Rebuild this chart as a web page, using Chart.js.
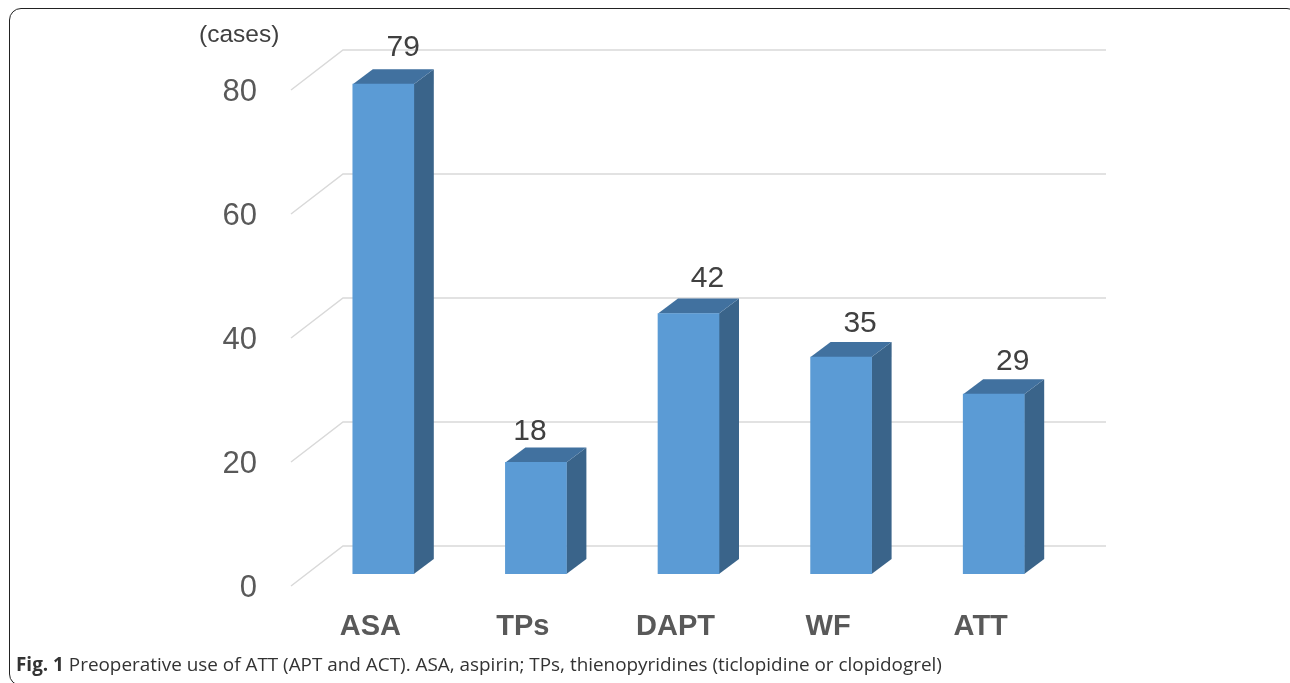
<!DOCTYPE html>
<html>
<head>
<meta charset="utf-8">
<script src="https://cdn.jsdelivr.net/npm/chart.js@4"></script>
<style>
html, body { margin: 0; padding: 0; background: #fff; overflow: hidden; }
#wrap { position: relative; width: 1290px; height: 683px; overflow: hidden; }
#frame { position: absolute; left: 9px; top: 8px; width: 1290px; height: 678px; border: 1.5px solid #222; border-radius: 12px; box-sizing: border-box; }
#chart { position: absolute; left: 0; top: 0; }
#caption { position: absolute; left: 16px; top: 651px; font: 18.9px "Open Sans", sans-serif; color: #333; white-space: nowrap; }
</style>
</head>
<body>
<div id="wrap">
  <div id="frame"></div>
  <canvas id="chart" width="1290" height="683"></canvas>
  <div id="caption"><b>Fig. 1</b> Preoperative use of ATT (APT and ACT). ASA, aspirin; TPs, thienopyridines (ticlopidine or clopidogrel)</div>
</div>
<script>
const categories = ["ASA", "TPs", "DAPT", "WF", "ATT"]
const cases = [79, 18, 42, 35, 29]
const yTicks = [0, 20, 40, 60, 80]

const depthX = 20
const depthY = 15
const wallX = 36
const wallY = 28

// the value labels do not sit evenly above the bars in the original
const labelShiftX = [20, -6, 19, 19, 19]
const labelShiftY = [36, 31, 35, 33, 32]

const bars3d = {
    id: "bars3d",
    beforeDatasetsDraw(chart) {
        const ctx = chart.ctx
        const y = chart.scales.y
        const x = chart.scales.x

        // back wall lines and the short diagonals on the left
        ctx.save()
        ctx.strokeStyle = "#d9d9d9"
        ctx.lineWidth = 1.5
        yTicks.forEach(v => {
            const py = y.getPixelForValue(v)
            ctx.beginPath()
            ctx.moveTo(x.left - 16, py + 12)
            ctx.lineTo(x.left + wallX, py - wallY)
            ctx.lineTo(x.right + wallX, py - wallY)
            ctx.stroke()
        })

        // side and top of each bar
        chart.getDatasetMeta(0).data.forEach(bar => {
            const left = bar.x - bar.width / 2
            const right = bar.x + bar.width / 2

            ctx.fillStyle = "#3a648a"
            ctx.beginPath()
            ctx.moveTo(right, bar.y)
            ctx.lineTo(right + depthX, bar.y - depthY)
            ctx.lineTo(right + depthX, bar.base - depthY)
            ctx.lineTo(right, bar.base)
            ctx.fill()

            ctx.fillStyle = "#41719f"
            ctx.beginPath()
            ctx.moveTo(left, bar.y)
            ctx.lineTo(left + depthX, bar.y - depthY)
            ctx.lineTo(right + depthX, bar.y - depthY)
            ctx.lineTo(right, bar.y)
            ctx.fill()
        })
        ctx.restore()
    },
    afterDatasetsDraw(chart) {
        const ctx = chart.ctx
        ctx.save()
        ctx.fillStyle = "#404040"
        ctx.font = '30px "Liberation Sans"'
        ctx.textAlign = "center"
        ctx.textBaseline = "middle"
        chart.getDatasetMeta(0).data.forEach((bar, i) => {
            ctx.fillText(cases[i], bar.x + labelShiftX[i], bar.y - labelShiftY[i])
        })

        ctx.font = '24.5px "Liberation Sans"'
        ctx.textAlign = "left"
        ctx.fillText("(cases)", 199, 35)
        ctx.restore()
    }
}

new Chart(document.getElementById("chart"), {
    type: "bar",
    data: {
        labels: categories,
        datasets: [{
            data: cases,
            backgroundColor: "#5b9bd5",
            barThickness: 61
        }]
    },
    plugins: [bars3d],
    options: {
        responsive: false,
        animation: false,
        layout: { padding: { top: 78, right: 220, left: 0, bottom: 0 } },
        plugins: {
            legend: { display: false },
            tooltip: { enabled: false }
        },
        scales: {
            x: {
                afterFit(scale) { scale.height = 109 },
                grid: { display: false },
                border: { display: false },
                ticks: {
                    color: "#595959",
                    font: { family: "Liberation Sans", size: 29, weight: "bold" },
                    padding: 28,
                    labelOffset: -13,
                    maxRotation: 0
                }
            },
            y: {
                min: 0,
                max: 80,
                afterFit(scale) { scale.width = 307 },
                grid: { display: false },
                border: { display: false },
                afterBuildTicks(scale) { scale.ticks = yTicks.map(v => ({ value: v })) },
                ticks: {
                    color: "#595959",
                    font: { family: "Liberation Sans", size: 31 },
                    padding: 42,
                    labelOffset: 14
                }
            }
        }
    }
})
</script>
</body>
</html>
